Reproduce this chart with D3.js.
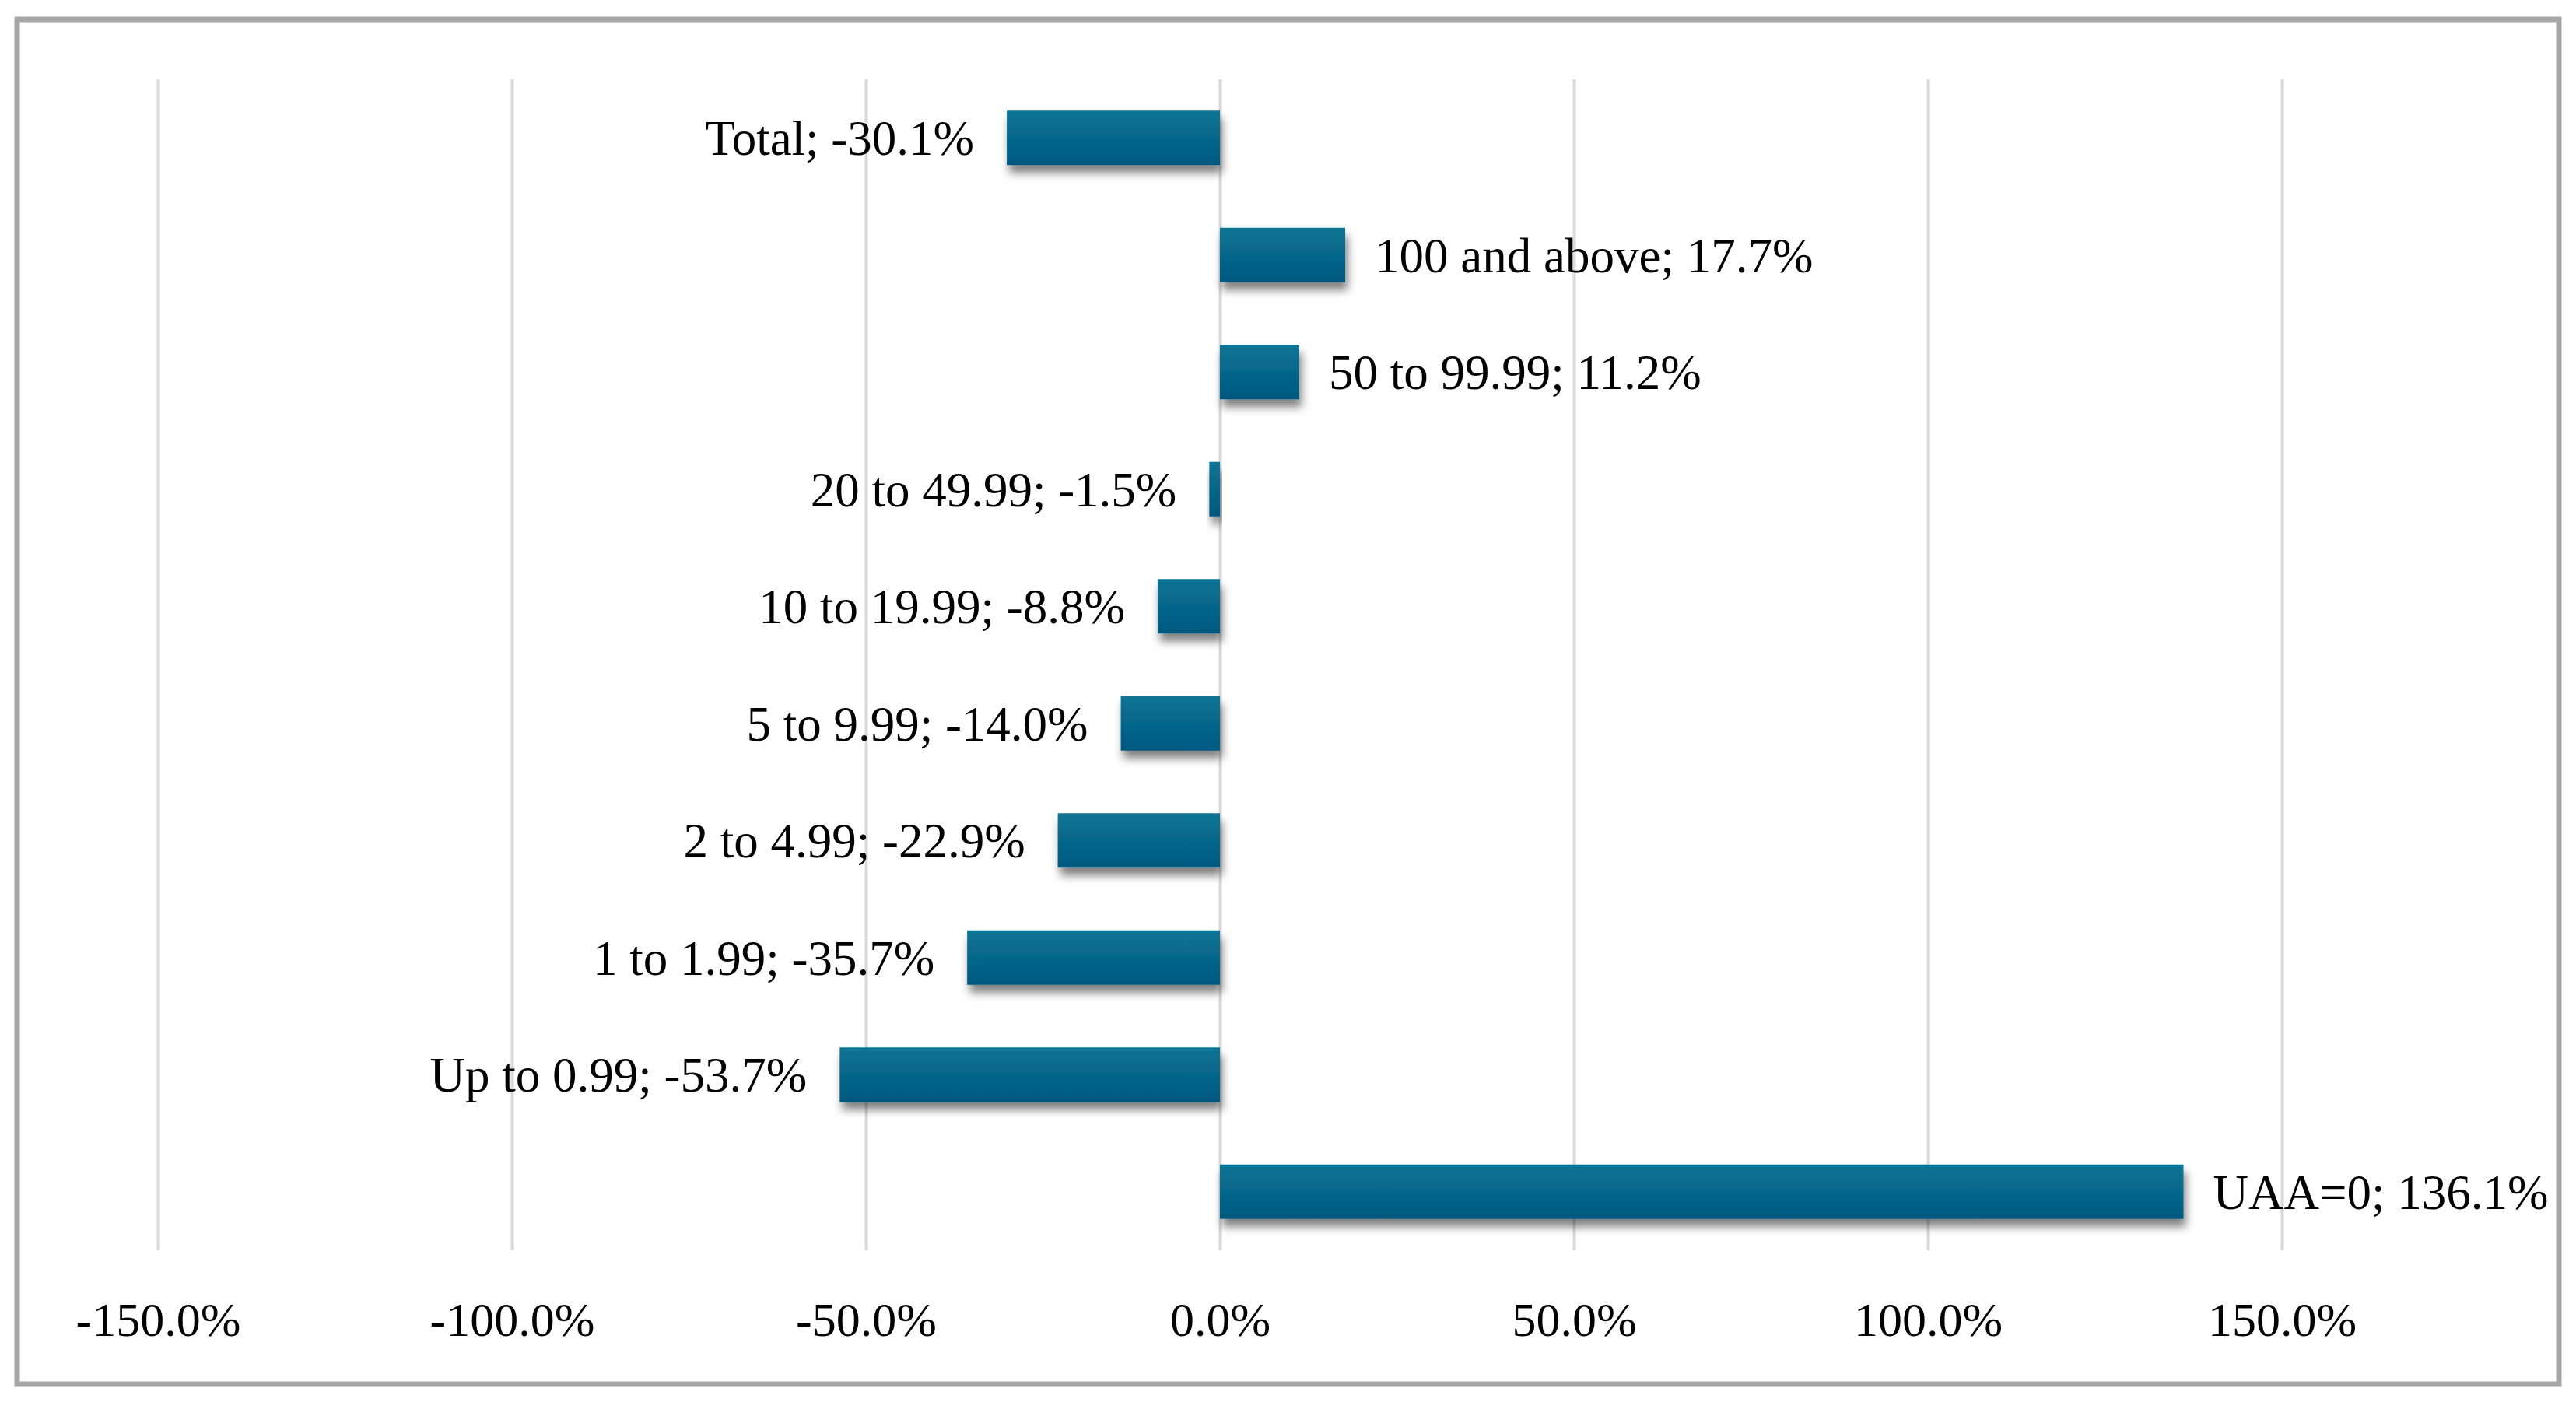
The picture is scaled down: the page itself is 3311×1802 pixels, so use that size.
<!DOCTYPE html>
<html>
<head>
<meta charset="utf-8">
<script src="https://cdn.jsdelivr.net/npm/d3@7"></script>
<style>
  html, body { margin: 0; padding: 0; background: #ffffff; }
  svg { display: block; }
</style>
</head>
<body>
<script>
// ---- Data ----
const categories = ["Total", "100 and above", "50 to 99.99", "20 to 49.99", "10 to 19.99",
                    "5 to 9.99", "2 to 4.99", "1 to 1.99", "Up to 0.99", "UAA=0"];
const values = [-30.1, 17.7, 11.2, -1.5, -8.8, -14.0, -22.9, -35.7, -53.7, 136.1];
const tickValues = [-150, -100, -50, 0, 50, 100, 150];

// ---- Layout ----
const W = 3311, H = 1802;
const plot = { left: 203, right: 2933, top: 102, bottom: 1607 };
const fontFamily = "'Liberation Serif', 'Times New Roman', serif";

const svg = d3.select("body").append("svg")
  .attr("width", W).attr("height", H)
  .attr("viewBox", `0 0 ${W} ${H}`);

const defs = svg.append("defs");
const grad = defs.append("linearGradient")
  .attr("id", "barGrad").attr("x1", 0).attr("y1", 0).attr("x2", 0).attr("y2", 1);
grad.append("stop").attr("offset", "0%").attr("stop-color", "#0c7595");
grad.append("stop").attr("offset", "100%").attr("stop-color", "#00587f");

const filt = defs.append("filter").attr("id", "shadow")
  .attr("x", "-20%").attr("y", "-30%").attr("width", "140%").attr("height", "190%");
filt.append("feDropShadow")
  .attr("dx", 3).attr("dy", 10).attr("stdDeviation", 6)
  .attr("flood-color", "#000").attr("flood-opacity", 0.5);

// Background + outer frame
svg.append("rect").attr("x", 0).attr("y", 0).attr("width", W).attr("height", H).attr("fill", "#fff");
svg.append("rect")
  .attr("x", 22).attr("y", 25).attr("width", 3267).attr("height", 1754)
  .attr("fill", "#ffffff").attr("stroke", "#a6a6a6").attr("stroke-width", 7);

// Scales
const x = d3.scaleLinear().domain([-150, 150]).range([plot.left, plot.right]);
const y = d3.scaleBand().domain(categories).range([plot.top, plot.bottom])
  .paddingInner(0.535).paddingOuter(0.535 / 2);

// Gridlines via axis
const grid = svg.append("g")
  .attr("transform", `translate(0,${plot.bottom})`)
  .call(d3.axisBottom(x).tickValues(tickValues)
    .tickSize(-(plot.bottom - plot.top)).tickFormat(""));
grid.select(".domain").remove();
grid.selectAll(".tick line").attr("stroke", "#d9d9d9").attr("stroke-width", 4);

// Tick labels via axis
const axis = svg.append("g")
  .attr("transform", `translate(0,${plot.bottom})`)
  .call(d3.axisBottom(x).tickValues(tickValues).tickSize(0)
    .tickFormat(d => d.toFixed(1) + "%"));
axis.select(".domain").remove();
axis.selectAll(".tick text")
  .attr("y", 110).attr("dy", 0)
  .attr("font-family", fontFamily).attr("font-size", 62).attr("fill", "#000");

// Bars
const data = categories.map((c, i) => ({ cat: c, v: values[i] }));
svg.append("g").selectAll("rect").data(data).join("rect")
  .attr("x", d => x(Math.min(0, d.v)))
  .attr("y", d => y(d.cat))
  .attr("width", d => Math.abs(x(d.v) - x(0)))
  .attr("height", y.bandwidth())
  .attr("fill", "url(#barGrad)")
  .attr("filter", "url(#shadow)");

// Data labels
svg.append("g").selectAll("text").data(data).join("text")
  .attr("x", d => d.v < 0 ? x(d.v) - 42 : x(d.v) + 38)
  .attr("y", d => y(d.cat) + y.bandwidth() / 2)
  .attr("dy", "0.35em")
  .attr("text-anchor", d => d.v < 0 ? "end" : "start")
  .attr("font-family", fontFamily).attr("font-size", 63).attr("fill", "#000")
  .text(d => `${d.cat}; ${d.v.toFixed(1)}%`);
</script>
</body>
</html>
